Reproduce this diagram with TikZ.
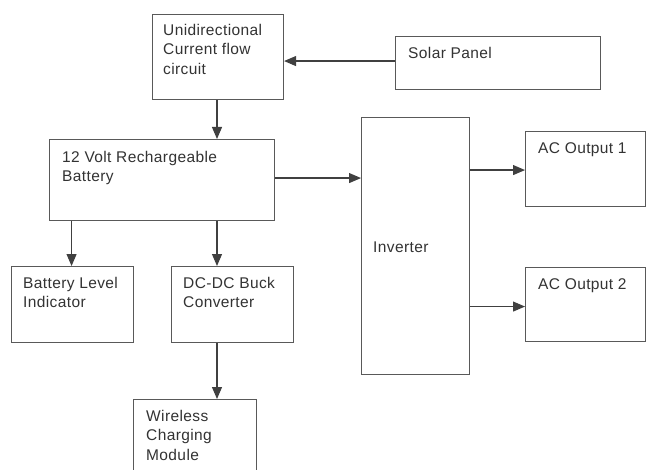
\documentclass[tikz,border=0pt]{standalone}
\usepackage{fontspec}
\setmainfont{Liberation Sans}
\newfontfamily\lblfont[LetterSpace=2.5]{Liberation Sans}
\usetikzlibrary{arrows.meta,calc}
\begin{document}
\begin{tikzpicture}[x=1pt,y=-1pt,
  box/.style={draw=black!65, line width=1.1pt, fill=white, inner sep=0pt, anchor=north west},
  lbl/.style={anchor=north west, inner sep=0pt, align=left, text=black!80,
    font=\lblfont\fontsize{15.5}{19.5}\selectfont},
  arr/.style={draw=black!75, line width=1.1pt, -{Triangle[length=12pt,width=10pt]}}]
\useasboundingbox (0,0) rectangle (647,470);
\coordinate (col) at (217,0);
% boxes
\node[box, minimum width=131pt, minimum height=85pt] (uni) at (152,14) {};
\node[box, minimum width=205pt, minimum height=53pt] (solar) at (395,36) {};
\node[box, minimum width=225pt, minimum height=81pt] (bat) at (49,139) {};
\node[box, minimum width=122pt, minimum height=76pt] (lvl) at (11,266) {};
\node[box, minimum width=122pt, minimum height=76pt] (dc) at (171,266) {};
\node[box, minimum width=123pt, minimum height=80pt] (wl) at (133,399) {};
\node[box, minimum width=108pt, minimum height=257pt] (inv) at (361,117) {};
\node[box, minimum width=120pt, minimum height=75pt] (ac1) at (525,131) {};
\node[box, minimum width=120pt, minimum height=74pt] (ac2) at (525,267) {};
% labels
\node[lbl] (unit) at ($(uni.north west)+(11,10)$) {Unidirectional\\Current flow\\circuit};
\node[lbl] (solart) at ($(solar.north west)+(13,11)$) {Solar Panel};
\node[lbl] (batt) at ($(bat.north west)+(13,12)$) {12 Volt Rechargeable\\Battery};
\node[lbl] (lvlt) at ($(lvl.north west)+(12,11)$) {Battery Level\\Indicator};
\node[lbl] (dct) at ($(dc.north west)+(12,11)$) {DC-DC Buck\\Converter};
\node[lbl] (wlt) at ($(wl.north west)+(13,11)$) {Wireless\\Charging\\Module};
\node[lbl, anchor=west] (invt) at ($(inv.west)+(12,1)$) {Inverter};
\node[lbl] (ac1t) at ($(ac1.north west)+(13,11)$) {AC Output 1};
\node[lbl] (ac2t) at ($(ac2.north west)+(13,11)$) {AC Output 2};
% connectors
\draw[arr] ($(solar.west)+(0,-2)$) -- ($(solar.west -| uni.east)+(0,-2)$);
\draw[arr] (uni.south -| col) -- (bat.north -| col);
\draw[arr] ($(bat.east)+(0,-2)$) -- ($(bat.east -| inv.west)+(0,-2)$);
\draw[arr] ($(bat.south -| lvl.north)+(-1,0)$) -- ($(lvl.north)+(-1,0)$);
\draw[arr] (bat.south -| col) -- (dc.north -| col);
\draw[arr] (dc.south -| col) -- (wl.north -| col);
\draw[arr] ($(ac1.west -| inv.east)+(0,1)$) -- ($(ac1.west)+(0,1)$);
\draw[arr] ($(ac2.west -| inv.east)+(0,2)$) -- ($(ac2.west)+(0,2)$);
\end{tikzpicture}
\end{document}
